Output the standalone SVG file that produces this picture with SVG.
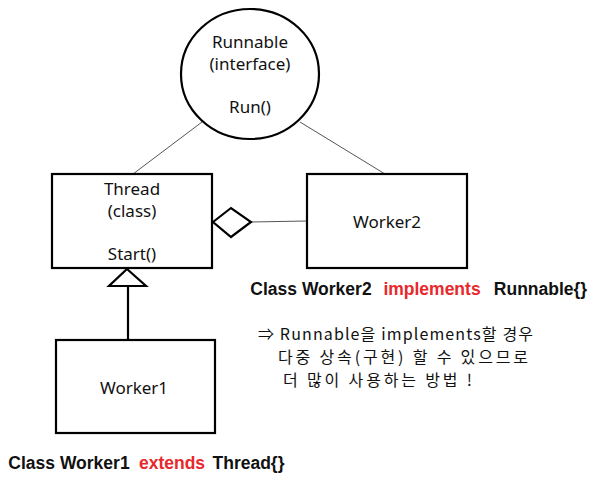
<svg xmlns="http://www.w3.org/2000/svg" width="600" height="480" viewBox="0 0 600 480">
<style>
.shape{fill:#fff;stroke:#000;stroke-width:2.2}
.thin{fill:none;stroke:#555;stroke-width:1}
.t{font-family:"Noto Sans","Liberation Sans","Noto Sans CJK KR",sans-serif;font-size:17px;fill:#111;text-anchor:middle}
.b{font-family:"Liberation Sans","Noto Sans CJK KR",sans-serif;font-size:17.5px;font-weight:bold;fill:#111;text-anchor:middle}
.red{fill:#e8282c}
.k{font-family:"Noto Sans CJK KR",sans-serif;font-size:16px;fill:#111}
</style>
<rect width="600" height="480" fill="#fff"/>
<g id="connectors">
<line class="thin" x1="202" y1="122" x2="133" y2="174"/>
<line class="thin" x1="300" y1="122" x2="385" y2="174"/>
<line class="thin" x1="251" y1="222" x2="307" y2="221"/>
<polygon class="shape" points="213,222 231,208 251,222 231,237"/>
<line x1="128" y1="286" x2="128" y2="340" stroke="#000" stroke-width="2.2"/>
<polygon class="shape" points="127,269 146,286 109,286"/>
</g>
<g id="runnable">
<ellipse class="shape" cx="250" cy="74" rx="69" ry="65"/>
<text class="t" x="250" y="48">Runnable</text>
<text class="t" x="250" y="70">(interface)</text>
<text class="t" x="250" y="113">Run()</text>
</g>
<g id="thread">
<rect class="shape" x="52" y="174" width="160" height="94"/>
<text class="t" x="132" y="195">Thread</text>
<text class="t" x="132" y="217">(class)</text>
<text class="t" x="132" y="260">Start()</text>
</g>
<g id="worker2">
<rect class="shape" x="307" y="174" width="160" height="94"/>
<text class="t" x="387" y="228">Worker2</text>
</g>
<g id="worker1">
<rect class="shape" x="56" y="340" width="159" height="93"/>
<text class="t" x="134" y="394">Worker1</text>
</g>
<text class="b" y="469"><tspan x="69">Class Worker1</tspan><tspan class="red" x="172">extends</tspan><tspan x="248.5">Thread{}</tspan></text>
<text class="b" y="295"><tspan x="311">Class Worker2</tspan><tspan class="red" x="432">implements</tspan><tspan x="540.5">Runnable{}</tspan></text>
<text class="k" x="258" y="339.5" textLength="275">⇒ Runnable을 implements할 경우</text>
<text class="k" x="278" y="362.7" textLength="250">다중 상속(구현) 할 수 있으므로</text>
<text class="k" x="283" y="385.9" textLength="189">더 많이 사용하는 방법 !</text>
</svg>
